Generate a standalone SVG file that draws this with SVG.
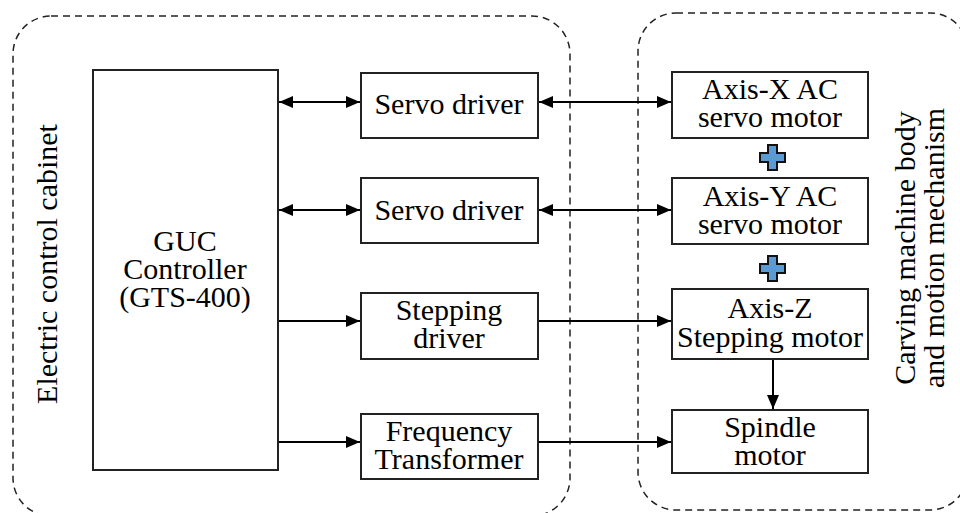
<svg xmlns="http://www.w3.org/2000/svg" width="960" height="513" viewBox="0 0 960 513" font-family="Liberation Serif, Tinos, Times New Roman, serif" font-size="30">
<style>
.cont{fill:none;stroke:#222;stroke-width:1.5;stroke-dasharray:7 5}
.box{fill:#fff;stroke:#222;stroke-width:2}
.ln{stroke:#000;stroke-width:2;fill:none}
.plus{fill:#5b9bd5;stroke:#111;stroke-width:2}
</style>
<defs>
<marker id="ah" viewBox="0 0 14 12" refX="14" refY="6" markerWidth="14" markerHeight="12" markerUnits="userSpaceOnUse" orient="auto-start-reverse">
<path d="M0,0 L14,6 L0,12 Z" fill="#000"/>
</marker>
</defs>
<rect class="cont" x="13" y="16" width="557" height="500" rx="38"/>
<rect class="cont" x="638" y="13" width="330" height="497" rx="38"/>
<g text-anchor="middle">
<text transform="translate(57,264) rotate(-90)">Electric control cabinet</text>
<text transform="translate(915,248) rotate(-90)">Carving machine body</text>
<text transform="translate(944,248) rotate(-90)">and motion mechanism</text>
</g>
<g id="connectors">
<line class="ln" x1="279" y1="102" x2="360" y2="102" marker-start="url(#ah)" marker-end="url(#ah)"/>
<line class="ln" x1="279" y1="210" x2="360" y2="210" marker-start="url(#ah)" marker-end="url(#ah)"/>
<line class="ln" x1="279" y1="321" x2="360" y2="321" marker-end="url(#ah)"/>
<line class="ln" x1="279" y1="442" x2="360" y2="442" marker-end="url(#ah)"/>
<line class="ln" x1="539" y1="102" x2="671" y2="102" marker-start="url(#ah)" marker-end="url(#ah)"/>
<line class="ln" x1="539" y1="210" x2="671" y2="210" marker-start="url(#ah)" marker-end="url(#ah)"/>
<line class="ln" x1="539" y1="321" x2="671" y2="321" marker-end="url(#ah)"/>
<line class="ln" x1="539" y1="442" x2="671" y2="442" marker-end="url(#ah)"/>
<line class="ln" x1="773" y1="360" x2="773" y2="409" marker-end="url(#ah)"/>
</g>
<g text-anchor="middle">
<g id="guc">
<rect class="box" x="93" y="70" width="185" height="400"/>
<text x="185" y="251">GUC</text>
<text x="185" y="279">Controller</text>
<text x="185" y="307">(GTS-400)</text>
</g>
<g id="servo1">
<rect class="box" x="361" y="73" width="177" height="65"/>
<text x="449" y="114">Servo driver</text>
</g>
<g id="servo2">
<rect class="box" x="361" y="178" width="177" height="65"/>
<text x="449" y="220">Servo driver</text>
</g>
<g id="stepping">
<rect class="box" x="361" y="293" width="177" height="66"/>
<text x="449" y="320">Stepping</text>
<text x="449" y="348">driver</text>
</g>
<g id="freq">
<rect class="box" x="361" y="414" width="177" height="65"/>
<text x="449" y="441">Frequency</text>
<text x="449" y="469">Transformer</text>
</g>
<g id="axisx">
<rect class="box" x="672" y="72" width="196" height="66"/>
<text x="770" y="99">Axis-X AC</text>
<text x="770" y="127">servo motor</text>
</g>
<g id="axisy">
<rect class="box" x="672" y="178" width="196" height="66"/>
<text x="770" y="206">Axis-Y AC</text>
<text x="770" y="234">servo motor</text>
</g>
<g id="axisz">
<rect class="box" x="672" y="289" width="196" height="70"/>
<text x="770" y="318">Axis-Z</text>
<text x="770" y="347">Stepping motor</text>
</g>
<g id="spindle">
<rect class="box" x="672" y="410" width="196" height="63"/>
<text x="770" y="437">Spindle</text>
<text x="770" y="465">motor</text>
</g>
</g>
<g id="plus1">
<path class="plus" d="M768,145 h9 v8 h8 v9 h-8 v8 h-9 v-8 h-8 v-9 h8 Z"/>
</g>
<g id="plus2">
<path class="plus" d="M768,256 h9 v8 h8 v9 h-8 v8 h-9 v-8 h-8 v-9 h8 Z"/>
</g>
</svg>
